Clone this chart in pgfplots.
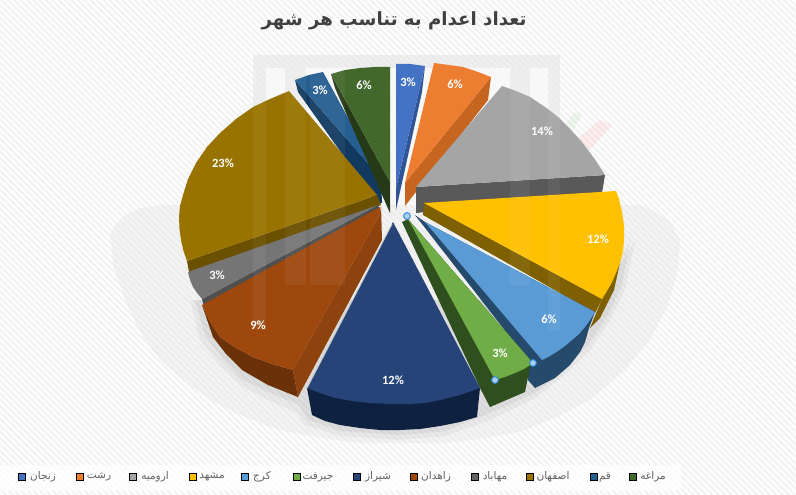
\documentclass[border=0pt]{standalone}
\usepackage{fontspec}
\usepackage{pgfplots}
\pgfplotsset{compat=1.18}
\usetikzlibrary{patterns.meta}
\TeXXeTstate=1
\setmainfont{Carlito}
\newfontfamily\arabicfont[Script=Arabic]{DejaVu Sans}
\definecolor{wm}{HTML}{E4E4E4}
\newcommand{\dc}[1]{\definecolor{#1}{HTML}{#1}}
\dc{123A60}\dc{255E91}\dc{6B5000}\dc{997300}\dc{263A18}\dc{43682B}\dc{2F5597}\dc{4472C4}\dc{C5651F}\dc{ED7D31}\dc{595959}\dc{A5A5A5}\dc{7F6000}\dc{FFC000}\dc{264A6B}\dc{5B9BD5}\dc{2F4F1F}\dc{70AD47}\dc{4F4F4F}\dc{757575}\dc{8E430E}\dc{6B3209}\dc{9E480E}\dc{0F2140}\dc{264478}\dc{636363}\dc{A6CFF2}\dc{2E86D6}
\newcommand{\poly}[2]{\addplot[fill=#1,draw=none,no markers,forget plot] coordinates {#2} --cycle;}
\newcommand{\legitem}[2]{%
 \addplot[only marks,mark=square*,mark size=3.4pt,mark options={fill=#2,draw=none},forget plot] coordinates {#1};}
\newcommand{\leglab}[2]{\node[anchor=center,text=black!62,font=\arabicfont\fontsize{10.5}{11}\selectfont,inner sep=0pt] at (axis cs:#1,477) {\beginR #2\endR};}
\newcommand{\pct}[3]{\node[text=white,font=\bfseries\fontsize{12.5}{13}\selectfont,inner sep=0pt] at (axis cs:#1,#2) {#3\%};}
\begin{document}
\begin{tikzpicture}
\begin{axis}[width=796pt,height=495pt,scale only axis,xmin=0,xmax=796,ymin=0,ymax=495,y dir=reverse,hide axis,clip=true]
% background
\addplot[fill=white,draw=none,no markers,forget plot] coordinates {(0,0)(796,0)(796,495)(0,495)} --cycle;
\addplot[draw=none,no markers,forget plot,pattern={Lines[angle=-45,distance=4.5pt,line width=2pt]},pattern color=black!5] coordinates {(0,0)(796,0)(796,495)(0,495)} --cycle;
% watermark beneath
\addplot[fill=wm,fill opacity=.4,draw=none,no markers,forget plot] coordinates {(110,236)(114,226)(124,216)(138,209)(160,205)(640,205)(656,212)(670,222)(680,240)(678,270)(668,305)(650,340)(625,370)(590,400)(555,418)(520,432)(480,439)(440,443)(360,443)(320,438)(280,430)(245,417)(210,400)(183,380)(160,360)(140,332)(125,300)(114,268)} --cycle;
\addplot[fill=wm,fill opacity=.55,draw=none,no markers,forget plot] coordinates {(253,55)(560,55)(560,205)(253,205)} --cycle;
\addplot[fill=white,fill opacity=.65,draw=none,no markers,forget plot] coordinates {(266,68)(548,68)(548,205)(266,205)} --cycle;
\addplot[fill=wm,fill opacity=.5,draw=none,no markers,forget plot] coordinates {(285,68)(306,68)(306,205)(285,205)} --cycle;
\addplot[fill=wm,fill opacity=.5,draw=none,no markers,forget plot] coordinates {(510,68)(530,68)(530,205)(510,205)} --cycle;
\addplot[fill=red!60,fill opacity=.1,draw=none,no markers,forget plot] coordinates {(570,145)(600,120)(612,125)(590,150)} --cycle;
\addplot[fill=green!60!black,fill opacity=.06,draw=none,no markers,forget plot] coordinates {(560,130)(575,112)(582,115)(570,135)} --cycle;
% shadow
\addplot[fill=black,fill opacity=.04,draw=none,no markers,forget plot] coordinates {(190,300)(200,340)(220,365)(240,385)(268,400)(296,412)(305,425)(340,436)(400,440)(445,436)(490,420)(535,398)(565,375)(590,350)(610,320)(625,290)(635,240)(600,300)(400,300)} --cycle;
\addplot[fill=black,fill opacity=.05,draw=none,no markers,forget plot] coordinates {(195,300)(205,335)(222,358)(240,378)(268,392)(298,404)(308,420)(340,431)(400,435)(445,431)(490,413)(535,393)(565,370)(590,342)(608,315)(622,285)(630,240)(600,300)(400,300)} --cycle;
% Qom
\poly{123A60}{(295,80)(298,92)(377,203)(382,203)(381,178)}
\poly{255E91}{(295,80)(309,75)(323,72)(381,178)}
% Esfahan
\poly{6B5000}{(187,261)(189,272)(381,205)(377,195)}
\poly{997300}{(289,91)(270,99)(253,107)(236,119)(220,133)(207,147)(196,163)(188,179)(183,195)(180,206)(179,217)(179.5,229)(181,240)(183.5,251)(187,261)(377,195)}
% Maraghe
\poly{263A18}{(331,74)(335,88)(390,213)(390,182)}
\poly{43682B}{(331,74)(345,70)(360,68)(375,67)(390,67)(390,182)}
% Zanjan
\poly{2F5597}{(425,66)(422,92)(396,210)(396,188)}
\poly{4472C4}{(396,64)(410,64)(425,66)(396,188)}
% Rasht
\poly{C5651F}{(491,77)(488,100)(405,206)(405,183)}
\poly{ED7D31}{(434,63)(449,65)(463,67)(478,72)(491,77)(405,183)}
% Urmia
\poly{595959}{(416,187)(605,175)(602,193)(416,213)}
\poly{A5A5A5}{(502,86)(516,91)(530,97)(545,107)(558,117)(570,129)(581,141)(594,158)(605,175)(416,187)}
% Mashhad
\poly{7F6000}{(620,263)(614,290)(600,318)(590,328)(602,299)}
\poly{7F6000}{(424,203)(602,299)(595,313)(423,215)}
\poly{FFC000}{(424,203)(616,191)(619,199)(622,212)(624,225)(624,240)(623,252)(620,263)(616,273)(612,282)(607,291)(602,299)}
% Karaj
\poly{264A6B}{(415,215)(528,360)(528,380)(535,388)(555,378)(570,365)(580,352)(585,342)(589,328)(595,312)(425,222)}
\poly{5B9BD5}{(425,222)(595,312)(590,320)(585,327)(579,334)(572,340)(565,346)(558,351)(550,356)(542,360)}
% Jiroft
\poly{2F4F1F}{(402,222)(480,388)(490,407)(525,392)(530,367)(533,363)(408,219)}
\poly{70AD47}{(408,219)(533,363)(524,369)(515,373)(505,377)(495,380)}
% Mahabad
\poly{4F4F4F}{(202,299)(204,306)(381,213)(378,205)}
\poly{757575}{(188,272)(190,280)(193,287)(197,293)(202,299)(378,205)}
% Zahedan
\poly{8E430E}{(293,370)(298,397)(382,240)(381,205)(380,214)}
\poly{6B3209}{(202,305)(213,337)(226,354)(242,370)(268,385)(298,397)(293,370)(272,364)(253,357)(236,348)(220,337)(210,322)}
\poly{9E480E}{(202,305)(210,322)(220,337)(236,348)(253,357)(272,364)(293,370)(380,214)(380,207)}
% Shiraz
\poly{0F2140}{(307,388)(312,415)(325,421)(340,425)(360,428)(380,430)(400,430)(420,429)(440,426)(460,422)(477,417)(480,388)}
\poly{264478}{(393,222)(480,388)(460,395)(440,400)(425,403)(410,404)(390,404)(370,403)(352,401)(335,398)(320,393)(307,388)}
\addplot[draw=black!20,line width=1pt,no markers,forget plot] coordinates {(392,224)(307,388)};
% faint overlay of the watermark on the pie
\addplot[fill=white,fill opacity=.05,draw=none,no markers,forget plot] coordinates {(253,55)(266,55)(266,330)(253,330)} --cycle;
\addplot[fill=white,fill opacity=.05,draw=none,no markers,forget plot] coordinates {(285,55)(306,55)(306,285)(285,285)} --cycle;
\addplot[fill=white,fill opacity=.05,draw=none,no markers,forget plot] coordinates {(310,55)(345,55)(345,285)(310,285)} --cycle;
\addplot[fill=white,fill opacity=.05,draw=none,no markers,forget plot] coordinates {(510,80)(530,80)(530,285)(510,285)} --cycle;
\addplot[fill=white,fill opacity=.05,draw=none,no markers,forget plot] coordinates {(548,55)(560,55)(560,330)(548,330)} --cycle;
% selection handles
\addplot[only marks,mark=*,mark size=3.4pt,mark options={fill=A6CFF2,draw=2E86D6,line width=.9pt},forget plot] coordinates {(407,216)(533,363)(495,380)};
\addplot[only marks,mark=*,mark size=6pt,mark options={fill=black!30,draw=none},forget plot] coordinates {(396,-3)(396,499)};
% legend strip
\addplot[fill=white,fill opacity=.75,draw=none,no markers,forget plot] coordinates {(0,465)(681,465)(681,491)(0,491)} --cycle;
\legitem{(22,477)}{4472C4}
\legitem{(80,477)}{ED7D31}
\legitem{(133,477)}{A5A5A5}
\legitem{(193,477)}{FFC000}
\legitem{(245,477)}{5B9BD5}
\legitem{(297,477)}{70AD47}
\legitem{(357,477)}{264478}
\legitem{(414,477)}{9E480E}
\legitem{(475,477)}{636363}
\legitem{(530,477)}{997300}
\legitem{(594,477)}{255E91}
\legitem{(633,477)}{43682B}
\leglab{43}{زنجان}
\leglab{99}{رشت}
\leglab{155}{ارومیه}
\leglab{212}{مشهد}
\leglab{262}{کرج}
\leglab{318}{جیرفت}
\leglab{378}{شیراز}
\leglab{436}{زاهدان}
\leglab{495}{مهاباد}
\leglab{553}{اصفهان}
\leglab{605}{قم}
\leglab{653}{مراغه}
% percentages
\pct{408}{82}{3}
\pct{455}{84}{6}
\pct{542}{131}{14}
\pct{598}{239}{12}
\pct{549}{319}{6}
\pct{500}{353}{3}
\pct{393}{380}{12}
\pct{258}{325}{9}
\pct{217}{275}{3}
\pct{223}{163}{23}
\pct{320}{90}{3}
\pct{364}{85}{6}
% title
\node[text=black!75,font=\arabicfont\bfseries\fontsize{18.2}{20}\selectfont,inner sep=0pt] at (axis cs:394,21) {\beginR تعداد اعدام به تناسب هر شهر\endR};
\end{axis}
\end{tikzpicture}
\end{document}
